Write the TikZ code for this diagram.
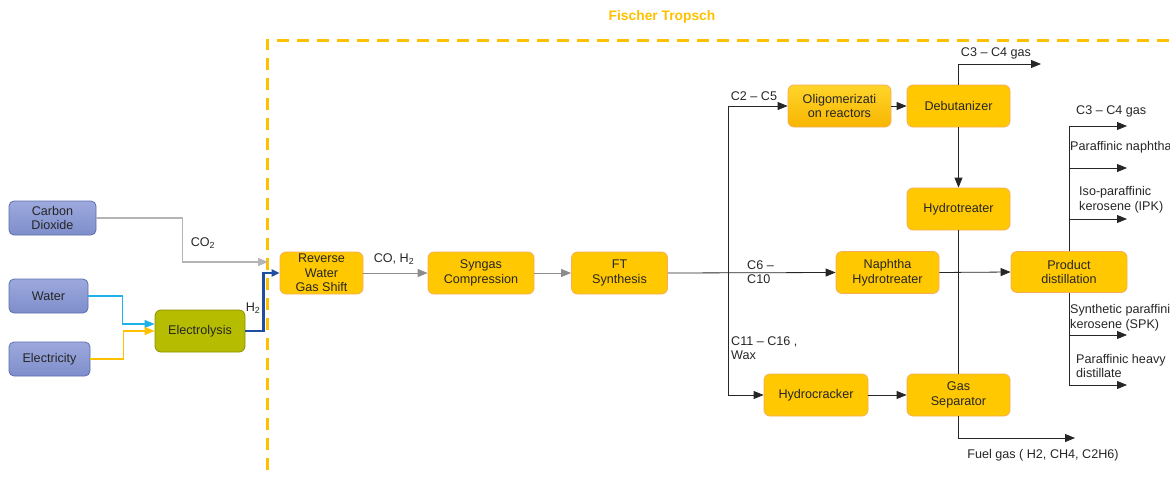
\documentclass[tikz,border=0pt]{standalone}
\usepackage{fontspec}
\setmainfont{Liberation Sans}
\usetikzlibrary{arrows.meta}
\definecolor{ftyellow}{HTML}{FFC000}
\definecolor{feedtop}{HTML}{9DA9DD}
\definecolor{feedbot}{HTML}{7E8ECB}
\definecolor{feedline}{HTML}{5C6DAF}
\definecolor{elyzfill}{HTML}{B6BC00}
\definecolor{elyzline}{HTML}{8A9000}
\definecolor{unitfill}{HTML}{FFC800}
\definecolor{unitline}{HTML}{F6AE5A}
\definecolor{oligotop}{HTML}{FFD52A}
\definecolor{oligobot}{HTML}{F7B500}
\definecolor{txt}{HTML}{262626}
\definecolor{co2gray}{HTML}{B4B4B4}
\definecolor{watercyan}{HTML}{1FB1EC}
\definecolor{htwoblue}{HTML}{1F4F9E}
\definecolor{syngray}{HTML}{8C8C8C}

\begin{document}
\begin{tikzpicture}[x=1pt,y=-1pt,
	font=\fontsize{12.6}{14.6}\selectfont,
	feed/.style={draw=feedline, top color=feedtop, bottom color=feedbot, rounded corners=5pt, minimum height=34pt, align=center, inner sep=1pt, text=txt, line width=0.8pt},
	unit/.style={draw=unitline, fill=unitfill, rounded corners=6pt, minimum width=103pt, minimum height=42pt, align=center, inner sep=1pt, text=txt, line width=0.8pt},
	flow/.style={-{Triangle[length=10pt,width=8pt]}, line width=0.8pt, black!85},
	lbl/.style={align=left, inner sep=0pt, text=txt}]
	\useasboundingbox (0,0) rectangle (1170,479);

	% Fischer Tropsch frame
	\draw[ftyellow, line width=3pt, dash pattern=on 12pt off 8pt] (267,470) -- (267,40) -- (1172,40);
	\node[font=\fontsize{13.8}{15}\selectfont\bfseries, text=ftyellow] (ftlabel) at (662,17) {Fischer Tropsch};

	% feeds
	\node[feed, minimum width=87pt] (co2src) at (52.5,218) {Carbon\\Dioxide};
	\node[feed, minimum width=79pt] (water) at (48.5,296) {Water};
	\node[feed, minimum width=81pt] (elec) at (49.5,359) {Electricity};
	\node[unit, draw=elyzline, fill=elyzfill, minimum width=90pt] (electrolysis) at (200,331) {Electrolysis};

	% units
	\node[unit, minimum width=83pt] (rwgs) at (321.5,273) {Reverse\\Water\\Gas Shift};
	\node[unit, minimum width=106pt] (syngas) at (481,273) {Syngas\\Compression};
	\node[unit, minimum width=96pt] (ft) at (619.5,273) {FT\\Synthesis};
	\node[unit, fill=none, top color=oligotop, bottom color=oligobot] (oligo) at (839.5,106) {Oligomerizati\\on reactors};
	\node[unit] (debut) at (958.5,106) {Debutanizer};
	\node[unit] (hydrotr) at (958.5,209) {Hydrotreater};
	\node[unit] (naphtha) at (887.5,272.5) {Naphtha\\Hydrotreater};
	\node[unit, minimum width=116pt, minimum height=41pt] (proddist) at (1069,272) {Product\\distillation};
	\node[unit, minimum width=104pt] (hcrack) at (816,395) {Hydrocracker};
	\node[unit] (gassep) at (958.5,395) {Gas\\Separator};

	% feed lines
	\coordinate (co2in) at (268,262);
	\draw[-{Triangle[length=10pt,width=8pt]}, co2gray, line width=1.2pt] (co2src.east) -- ++(86,0) |- (co2in);
	\draw[-{Triangle[length=10pt,width=8pt]}, watercyan, line width=1.2pt] (water.east) -- ++(34,0) |- ([yshift=7pt]electrolysis.west);
	\draw[-{Triangle[length=10pt,width=8pt]}, ftyellow, line width=1.2pt] (elec.east) -- ++(33,0) |- (electrolysis.west);
	\draw[-{Triangle[length=8pt,width=7pt]}, htwoblue, line width=2.4pt] (electrolysis.east) -- ++(18,0) |- (rwgs.west);
	\node[lbl] (lco2) at (203,243) {CO\textsubscript{2}};
	\node[lbl] (lhtwo) at (253,308) {H\textsubscript{2}};

	% syngas train
	\draw[flow, syngray] (rwgs) -- (syngas);
	\draw[flow, syngray] (syngas) -- (ft);
	\node[lbl] (lsyn) at (394,259) {CO, H\textsubscript{2}};
	\draw[flow] (ft.east) -- (naphtha.west);
	\node[lbl, anchor=west] (lcsix) at (747,272) {C6 –\\C10};

	% FT product split
	\coordinate (split) at (728,273);
	\draw[flow] (split) |- (oligo.west);
	\draw[flow] (split) |- (hcrack.west);
	\node[lbl] (lctwo) at (754,96) {C2 – C5};
	\node[lbl, anchor=north west] (lceleven) at (731,336) {C11 – C16 ,\\Wax};

	\draw[flow] (oligo) -- (debut);
	\coordinate (lpgout) at (1041,64);
	\draw[flow] (debut.north) |- (lpgout);
	\node[lbl] (llpg) at (996,53) {C3 – C4 gas};
	\draw[flow] (debut) -- (hydrotr);
	\draw[line width=0.8pt, black!85] (hydrotr.south) -- (gassep.north);
	\draw[flow] (hcrack) -- (gassep);
	\coordinate (fuelout) at (1075,438);
	\draw[flow] (gassep.south) |- (fuelout);
	\node[lbl] (lfuel) at (1043,455) {Fuel gas ( H2, CH4, C2H6)};
	\draw[flow] (naphtha.east) -- (proddist.west);

	% distillation cuts
	\foreach \i/\y in {1/126,2/168,3/219} {
		\coordinate (cut\i) at (1127,\y);
		\draw[flow] (proddist.north) |- (cut\i);
	}
	\foreach \i/\y in {4/335,5/385} {
		\coordinate (cut\i) at (1127,\y);
		\draw[flow] (proddist.south) |- (cut\i);
	}
	\node[lbl, anchor=west] (lcutone) at (1076,111) {C3 – C4 gas};
	\node[lbl, anchor=west] (lcuttwo) at (1070,147) {Paraffinic naphtha};
	\node[lbl, anchor=west] (lcutthree) at (1079,200) {Iso-paraffinic\\kerosene (IPK)};
	\node[lbl, anchor=west] (lcutfour) at (1070,318) {Synthetic paraffinic\\kerosene (SPK)};
	\node[lbl, anchor=west] (lcutfive) at (1076,366) {Paraffinic heavy\\distillate};
\end{tikzpicture}
\end{document}
